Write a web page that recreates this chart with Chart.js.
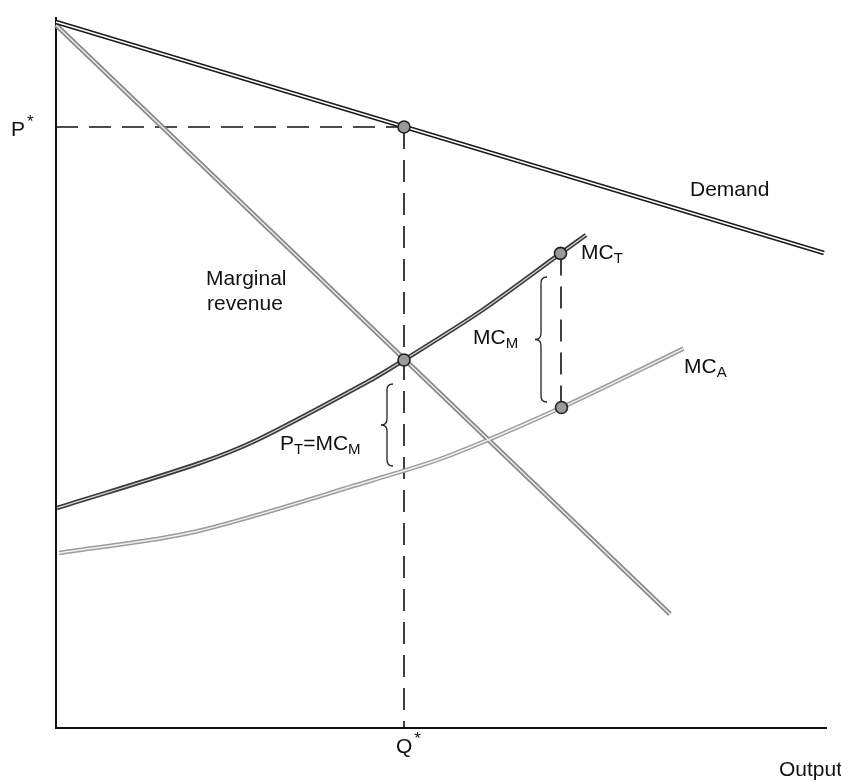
<!DOCTYPE html>
<html><head><meta charset="utf-8">
<script src="https://cdn.jsdelivr.net/npm/chart.js@4.4.0/dist/chart.umd.min.js"></script>
<style>html,body{margin:0;padding:0;background:#fff}#wrap{width:841px;height:782px;position:relative}</style>
</head><body><div id="wrap"><canvas id="c"></canvas></div>
<script>
// Values (output on x, price/cost on y, arbitrary units)
const demandX = [0, 768];
const demandY = [706, 475];
const mrX = [0, 614];
const mrY = [703, 114];
const mcTX = [1, 141, 201, 313, 348, 425, 504.5, 530];
const mcTY = [220, 264, 288, 347, 368, 417, 474.6, 493];
const mcAX = [3, 138, 317, 391, 505.5, 627.5];
const mcAY = [175, 196, 248, 271.5, 320.5, 379.4];
const qStar = 348;
const pStar = 601;
const markX = [348, 348, 504.5, 505.5];
const markY = [601, 368, 474.6, 320.5];

const pts = (xs, ys) => xs.map((x, i) => ({x: x, y: ys[i]}));

function lineDs(xs, ys, color, width, order, curved) {
  return {data: pts(xs, ys), showLine: true, borderColor: color, borderWidth: width,
    pointRadius: 0, fill: false, order: order, clip: false,
    tension: curved ? 0.3 : 0};
}
function dashDs(xs, ys) {
  return {data: pts(xs, ys), showLine: true, borderColor: '#111', borderWidth: 1.6,
    borderDash: [22, 11], pointRadius: 0, fill: false, order: 20, clip: false};
}

const FONT = '"Liberation Sans", Arial, sans-serif';
function rich(ctx, parts, x, y) {
  let cx = x;
  parts.forEach(p => {
    const size = p.k === 'sub' ? 15 : (p.k === 'sup' ? 17 : 21);
    ctx.font = size + 'px ' + FONT;
    let dy = 0;
    if (p.k === 'sub') dy = 6;
    if (p.k === 'sup') dy = -8;
    ctx.fillText(p.t, cx + (p.k === 'sup' ? 2 : 0), y + dy);
    cx += ctx.measureText(p.t).width;
  });
}
function brace(ctx, x, y1, y2, w) {
  const ym = (y1 + y2) / 2, r = 6;
  ctx.beginPath();
  ctx.moveTo(x + w / 2, y1);
  ctx.quadraticCurveTo(x, y1, x, y1 + r);
  ctx.lineTo(x, ym - r);
  ctx.quadraticCurveTo(x, ym, x - w / 2, ym);
  ctx.quadraticCurveTo(x, ym, x, ym + r);
  ctx.lineTo(x, y2 - r);
  ctx.quadraticCurveTo(x, y2, x + w / 2, y2);
  ctx.stroke();
}

const annot = {
  id: 'annot',
  afterDatasetsDraw(chart) {
    const ctx = chart.ctx, sx = chart.scales.x, sy = chart.scales.y;
    ctx.save();
    ctx.fillStyle = '#111';
    ctx.strokeStyle = '#222';
    ctx.lineWidth = 1.3;
    ctx.textBaseline = 'middle';
    ctx.textAlign = 'left';
    brace(ctx, sx.getPixelForValue(485), sy.getPixelForValue(451), sy.getPixelForValue(326), 12);
    brace(ctx, sx.getPixelForValue(331), sy.getPixelForValue(344), sy.getPixelForValue(262), 12);
    rich(ctx, [{t: 'Demand'}], 690, 190);
    rich(ctx, [{t: 'Marginal'}], 206, 279);
    rich(ctx, [{t: 'revenue'}], 207, 304);
    rich(ctx, [{t: 'MC'}, {t: 'T', k: 'sub'}], 581, 253);
    rich(ctx, [{t: 'MC'}, {t: 'M', k: 'sub'}], 473, 338);
    rich(ctx, [{t: 'MC'}, {t: 'A', k: 'sub'}], 684, 367);
    rich(ctx, [{t: 'P'}, {t: 'T', k: 'sub'}, {t: '=MC'}, {t: 'M', k: 'sub'}], 280, 444);
    rich(ctx, [{t: 'P'}, {t: '*', k: 'sup'}], 11, sy.getPixelForValue(pStar) + 3);
    const qx = sx.getPixelForValue(qStar);
    rich(ctx, [{t: 'Q'}, {t: '*', k: 'sup'}], qx - 8, 747);
    rich(ctx, [{t: 'Output'}], 779, 770);
    ctx.restore();
  }
};

new Chart(document.getElementById('c'), {
  type: 'scatter',
  data: {
    datasets: [
      {data: pts(markX, markY), pointRadius: 6, pointBackgroundColor: '#9a9a9a',
        pointBorderColor: '#222', pointBorderWidth: 1.6, showLine: false, order: 0, clip: false},
      lineDs(demandX, demandY, '#ffffff', 1.4, 5, false),
      lineDs(mrX, mrY, '#eeeeee', 1.4, 5, false),
      lineDs(mcTX, mcTY, '#d8d8d8', 1.2, 5, true),
      lineDs(mcAX, mcAY, '#f2f2f2', 1.4, 5, true),
      lineDs(demandX, demandY, '#1a1a1a', 4.5, 10, false),
      lineDs(mrX, mrY, '#8a8a8a', 5, 10, false),
      lineDs(mcTX, mcTY, '#3a3a3a', 4.5, 10, true),
      lineDs(mcAX, mcAY, '#9c9c9c', 4.5, 10, true),
      dashDs([0, qStar], [pStar, pStar]),
      dashDs([qStar, qStar], [pStar, 0]),
      dashDs([505, 505], [474.6, 320.5])
    ]
  },
  options: {
    responsive: true, maintainAspectRatio: false, animation: false,
    layout: {padding: {left: 56, top: 18, right: 15, bottom: 54}},
    plugins: {legend: {display: false}, tooltip: {enabled: false}},
    scales: {
      x: {type: 'linear', min: 0, max: 770,
        grid: {display: false, drawTicks: false}, ticks: {display: false},
        border: {display: true, color: '#111', width: 2}},
      y: {type: 'linear', min: 0, max: 710,
        grid: {display: false, drawTicks: false}, ticks: {display: false},
        border: {display: true, color: '#111', width: 2}}
    }
  },
  plugins: [annot]
});
</script></body></html>
